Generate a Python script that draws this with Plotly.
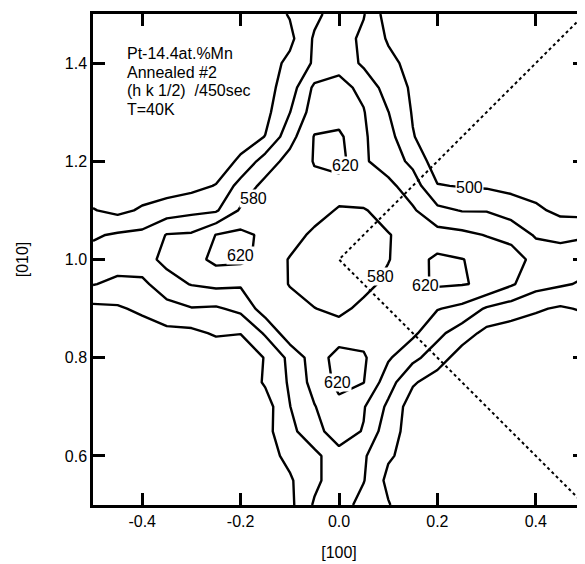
import plotly.graph_objects as go

# Grid of reciprocal-space coordinates
qx = [round(-0.5 + 0.05 * i, 2) for i in range(21)]   # [100]
qy = [round(0.5 + 0.05 * j, 2) for j in range(21)]    # [010]

# Diffuse intensity (counts / 450 sec), rows = qy from 0.50 to 1.50, cols = qx from -0.50 to 0.50
intensity = [
    [465,465,465,465,465,465,465,470,490,545,560,525,503,470,465,465,465,465,465,465,465],  # 0.50
    [465,465,465,465,465,465,465,480,495,530,565,542,490,475,465,465,465,465,465,465,465],  # 0.55
    [465,465,465,465,465,465,465,485,510,528,570,545,505,485,465,465,465,465,465,465,465],  # 0.60
    [465,465,465,465,465,465,465,488,527,570,595,578,515,485,465,465,465,465,465,465,465],  # 0.65
    [465,465,465,465,465,465,465,481,539,578,610,583,532,479,470,465,465,465,465,465,465],  # 0.70
    [465,465,465,465,465,465,470,505,545,595,630,621,557,505,480,470,465,465,465,465,465],  # 0.75
    [465,465,465,465,465,470,475,502,550,600,635,625,585,550,520,480,470,470,465,465,465],  # 0.80
    [472,475,480,490,490,505,501,545,605,605,600,605,595,588,550,520,488,480,478,472,475],  # 0.85
    [490,495,508,525,538,535,550,600,595,581,570,590,600,590,582,570,535,520,505,495,505],  # 0.90
    [542,530,530,565,582,590,585,605,578,560,552,568,590,610,625,622,615,585,555,545,535],  # 0.95
    [556,560,566,590,605,630,628,610,577,565,555,560,578,605,628,621,610,595,570,560,552],  # 1.00
    [535,545,550,582,585,621,630,612,600,570,560,562,578,595,595,590,578,570,535,530,538],  # 1.05
    [502,490,505,520,530,535,585,605,610,600,575,577,595,585,550,538,538,520,508,490,485],  # 1.10
    [480,472,480,480,488,502,555,592,605,612,605,608,590,560,502,498,495,490,482,472,470],  # 1.15
    [465,465,465,468,470,475,508,558,595,622,635,585,562,530,478,475,472,470,465,465,465],  # 1.20
    [465,465,465,465,465,468,480,501,565,622,628,585,555,502,478,468,465,465,465,465,465],  # 1.25
    [465,465,465,465,465,465,470,488,539,600,600,582,541,497,475,465,465,465,465,465,465],  # 1.30
    [465,465,465,465,465,465,465,485,520,588,590,572,520,495,472,465,465,465,465,465,465],  # 1.35
    [465,465,465,465,465,465,465,480,510,545,570,532,510,488,468,465,465,465,465,465,465],  # 1.40
    [465,465,465,465,465,465,465,475,490,545,562,530,496,475,465,465,465,465,465,465,465],  # 1.45
    [465,465,465,465,465,465,465,480,503,530,560,543,480,470,465,465,465,465,465,465,465],  # 1.50
]

contour_start = 500
contour_end = 620
contour_step = 40

# Contour level labels (text, qx, qy)
label_text = ["580", "620", "500", "620", "580", "620", "620"]
label_x = [-0.174, 0.013, 0.266, -0.20, 0.084, 0.175, -0.004]
label_y = [1.125, 1.192, 1.147, 1.009, 0.966, 0.948, 0.749]

# Dotted guide lines from (0,1)
guide_x = [0.5, 0.0, 0.5]
guide_y = [1.5, 1.0, 0.5]

# Sample info text lines
info_lines = ["Pt-14.4at.%Mn", "Annealed #2", "(h k 1/2)  /450sec", "T=40K"]
info_x = -0.432
info_y = [1.419, 1.381, 1.344, 1.306]

x_ticks = [-0.4, -0.2, 0.0, 0.2, 0.4]
x_ticklabels = ["-0.4", "-0.2", "0.0", "0.2", "0.4"]
y_ticks = [0.6, 0.8, 1.0, 1.2, 1.4]
y_ticklabels = ["0.6", "0.8", "1.0", "1.2", "1.4"]

FONT = "Liberation Sans, Arial, Helvetica, sans-serif"

fig = go.Figure()
fig.add_trace(go.Contour(
    x=qx, y=qy, z=intensity,
    contours=dict(start=contour_start, end=contour_end, size=contour_step,
                  coloring="none", showlabels=False),
    line=dict(color="black", width=2.4, smoothing=0),
    showscale=False, hoverinfo="skip",
))
fig.add_trace(go.Scatter(
    x=guide_x, y=guide_y, mode="lines",
    line=dict(color="black", width=2, dash="3px,3px"),
    hoverinfo="skip", showlegend=False,
))

annotations = []
for t, lx, ly in zip(label_text, label_x, label_y):
    annotations.append(dict(x=lx, y=ly, xref="x", yref="y", text=t, showarrow=False,
                            font=dict(family=FONT, size=16, color="black"),
                            bgcolor="white", borderpad=0))
for t, ly in zip(info_lines, info_y):
    annotations.append(dict(x=info_x, y=ly, xref="x", yref="y", text=t, showarrow=False,
                            xanchor="left", yanchor="middle", borderpad=0,
                            font=dict(family=FONT, size=16, color="black")))

axis_common = dict(
    ticks="inside", ticklen=12, tickwidth=2.5, tickcolor="black",
    showline=True, linewidth=2.5, linecolor="black", mirror="ticks",
    showgrid=False, zeroline=False, automargin=False,
    tickfont=dict(family=FONT, size=16, color="black"),
)

# The page body adds an 8px offset, so the figure is sized to fit the window
fig.update_layout(
    width=577, height=556,
    margin=dict(l=85, r=0, t=6, b=59),
    paper_bgcolor="white", plot_bgcolor="white",
    showlegend=False,
    font=dict(family=FONT, size=16, color="black"),
    xaxis=dict(range=[-0.5, 0.5], tickvals=x_ticks, ticktext=x_ticklabels,
               title=dict(text="[100]", font=dict(family=FONT, size=16), standoff=18),
               **axis_common),
    yaxis=dict(range=[0.5, 1.5], tickvals=y_ticks, ticktext=y_ticklabels,
               title=dict(text="[010]", font=dict(family=FONT, size=16), standoff=33),
               **axis_common),
    annotations=annotations,
)

fig.write_html("out.html")
